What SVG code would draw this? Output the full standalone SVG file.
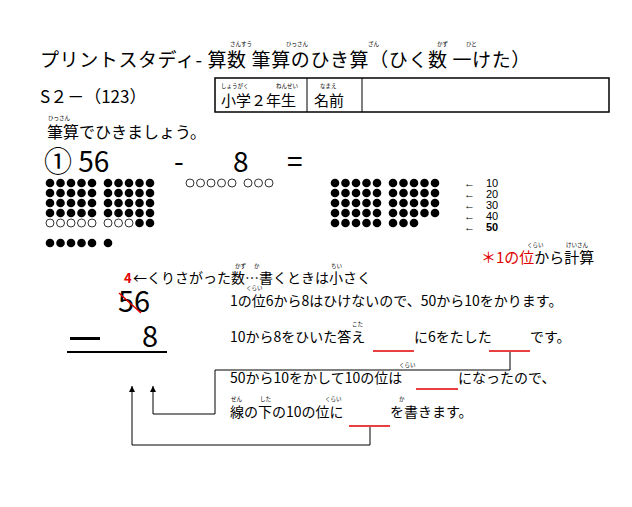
<svg xmlns="http://www.w3.org/2000/svg" width="632" height="507" viewBox="0 0 632 507">
<defs>
<style>
text{font-family:"Noto Sans CJK JP","Liberation Sans",sans-serif;fill:#000}
.f{font-size:5.5px}
.t{font-size:14px}
.r{fill:#e00000}
.d{fill:#000}
.h{fill:none;stroke:#000;stroke-width:0.8}
.u{stroke:#e00000;stroke-width:1.5}
.c{fill:none;stroke:#000;stroke-width:1}
.n{font-family:"Liberation Sans",sans-serif;font-size:11px}
</style>
<marker id="a" viewBox="0 0 6 6" refX="6" refY="3" markerWidth="6" markerHeight="6" orient="auto"><path d="M0,0L6,3L0,6z" fill="#000"/></marker>
<circle id="b" r="4.3" class="d"/>
<circle id="o" r="4" class="h"/>
</defs>
<rect width="632" height="507" fill="#fff"/>
<g id="title">
<text x="40" y="67" font-size="19" letter-spacing="0.6">プリントスタディ- 算数 筆算のひき算（ひく数 一けた）</text>
<text class="f" x="230" y="46">さんすう</text><text class="f" x="286" y="46">ひっさん</text><text class="f" x="368" y="46">ざん</text><text class="f" x="437" y="46">かず</text><text class="f" x="466" y="46">ひと</text>
<text x="40" y="103" font-size="17">S２－（123）</text>
</g>
<g id="namebox">
<rect x="215" y="78" width="394" height="34" fill="none" stroke="#000" stroke-width="1.5"/>
<line x1="307" y1="78" x2="307" y2="112" stroke="#000"/><line x1="362" y1="78" x2="362" y2="112" stroke="#000"/>
<text x="221" y="106" font-size="15">小学２年生</text><text x="314" y="106" font-size="15">名前</text>
<text class="f" x="221" y="88">しょうがく</text><text class="f" x="276" y="88">ねんせい</text><text class="f" x="320" y="88">なまえ</text>
</g>
<g id="problem">
<text x="47" y="138" font-size="16">筆算でひきましょう。</text><text class="f" x="48" y="120">ひっさん</text>
<text x="44" y="172" font-size="28">① 56</text><text x="174" y="172" font-size="28">-</text><text x="233" y="172" font-size="28">8</text><text x="287" y="172" font-size="28">=</text>
</g>
<g id="dots">
<g id="left">
<use href="#b" x="50" y="183"/><use href="#b" x="60.5" y="183"/><use href="#b" x="71" y="183"/><use href="#b" x="81.5" y="183"/><use href="#b" x="92" y="183"/><use href="#b" x="108" y="183"/><use href="#b" x="118.5" y="183"/><use href="#b" x="129" y="183"/><use href="#b" x="139.5" y="183"/><use href="#b" x="150" y="183"/>
<use href="#b" x="50" y="193"/><use href="#b" x="60.5" y="193"/><use href="#b" x="71" y="193"/><use href="#b" x="81.5" y="193"/><use href="#b" x="92" y="193"/><use href="#b" x="108" y="193"/><use href="#b" x="118.5" y="193"/><use href="#b" x="129" y="193"/><use href="#b" x="139.5" y="193"/><use href="#b" x="150" y="193"/>
<use href="#b" x="50" y="203"/><use href="#b" x="60.5" y="203"/><use href="#b" x="71" y="203"/><use href="#b" x="81.5" y="203"/><use href="#b" x="92" y="203"/><use href="#b" x="108" y="203"/><use href="#b" x="118.5" y="203"/><use href="#b" x="129" y="203"/><use href="#b" x="139.5" y="203"/><use href="#b" x="150" y="203"/>
<use href="#b" x="50" y="213"/><use href="#b" x="60.5" y="213"/><use href="#b" x="71" y="213"/><use href="#b" x="81.5" y="213"/><use href="#b" x="92" y="213"/><use href="#b" x="108" y="213"/><use href="#b" x="118.5" y="213"/><use href="#b" x="129" y="213"/><use href="#b" x="139.5" y="213"/><use href="#b" x="150" y="213"/>
<use href="#o" x="50" y="223"/><use href="#o" x="60.5" y="223"/><use href="#o" x="71" y="223"/><use href="#o" x="81.5" y="223"/><use href="#o" x="92" y="223"/><use href="#o" x="108" y="223"/><use href="#o" x="118.5" y="223"/><use href="#o" x="129" y="223"/><use href="#b" x="139.5" y="223"/><use href="#b" x="150" y="223"/>
<use href="#b" x="50" y="243"/><use href="#b" x="60.5" y="243"/><use href="#b" x="71" y="243"/><use href="#b" x="81.5" y="243"/><use href="#b" x="92" y="243"/><use href="#b" x="108" y="243"/>
</g>
<g id="mid">
<use href="#o" x="190" y="183"/><use href="#o" x="200.5" y="183"/><use href="#o" x="211" y="183"/><use href="#o" x="221.5" y="183"/><use href="#o" x="232" y="183"/><use href="#o" x="248" y="183"/><use href="#o" x="258.5" y="183"/><use href="#o" x="269" y="183"/>
</g>
<g id="right">
<use href="#b" x="335" y="183"/><use href="#b" x="345.5" y="183"/><use href="#b" x="356" y="183"/><use href="#b" x="366.5" y="183"/><use href="#b" x="377" y="183"/><use href="#b" x="393" y="183"/><use href="#b" x="403.5" y="183"/><use href="#b" x="414" y="183"/><use href="#b" x="424.5" y="183"/><use href="#b" x="435" y="183"/>
<use href="#b" x="335" y="193"/><use href="#b" x="345.5" y="193"/><use href="#b" x="356" y="193"/><use href="#b" x="366.5" y="193"/><use href="#b" x="377" y="193"/><use href="#b" x="393" y="193"/><use href="#b" x="403.5" y="193"/><use href="#b" x="414" y="193"/><use href="#b" x="424.5" y="193"/><use href="#b" x="435" y="193"/>
<use href="#b" x="335" y="203"/><use href="#b" x="345.5" y="203"/><use href="#b" x="356" y="203"/><use href="#b" x="366.5" y="203"/><use href="#b" x="377" y="203"/><use href="#b" x="393" y="203"/><use href="#b" x="403.5" y="203"/><use href="#b" x="414" y="203"/><use href="#b" x="424.5" y="203"/><use href="#b" x="435" y="203"/>
<use href="#b" x="335" y="213"/><use href="#b" x="345.5" y="213"/><use href="#b" x="356" y="213"/><use href="#b" x="366.5" y="213"/><use href="#b" x="377" y="213"/><use href="#b" x="393" y="213"/><use href="#b" x="403.5" y="213"/><use href="#b" x="414" y="213"/><use href="#b" x="424.5" y="213"/><use href="#b" x="435" y="213"/>
<use href="#b" x="335" y="223"/><use href="#b" x="345.5" y="223"/><use href="#b" x="356" y="223"/><use href="#b" x="366.5" y="223"/><use href="#b" x="377" y="223"/><use href="#b" x="393" y="223"/><use href="#b" x="403.5" y="223"/><use href="#b" x="414" y="223"/>
</g>
<g id="labels">
<text x="464" y="187" class="n">←</text><text x="486" y="187" class="n">10</text>
<text x="464" y="198" class="n">←</text><text x="486" y="198" class="n">20</text>
<text x="464" y="209" class="n">←</text><text x="486" y="209" class="n">30</text>
<text x="464" y="220" class="n">←</text><text x="486" y="220" class="n">40</text>
<text x="464" y="231" class="n">←</text><text x="486" y="231" class="n" font-weight="bold">50</text>
</g>
</g>
<g id="note">
<text x="481" y="263" font-size="15"><tspan class="r">＊1の位</tspan>から計算</text>
<text class="f" x="527" y="247">くらい</text><text class="f" x="566" y="247">けいさん</text>
</g>
<g id="work">
<text x="124" y="283" font-size="13" font-weight="bold" class="r">4</text>
<text x="133" y="283" class="t">←くりさがった数…書くときは小さく</text>
<text class="f" x="235" y="268">かず</text><text class="f" x="254" y="268">か</text><text class="f" x="331" y="268">ちい</text>
<text x="118" y="312" font-size="29">56</text>
<line x1="119" y1="293" x2="141" y2="313" stroke="#e00000" stroke-width="1.5"/>
<rect x="70" y="337" width="30" height="3" fill="#000"/><text x="142" y="347" font-size="29">8</text>
<line x1="67" y1="352" x2="167" y2="352" stroke="#000" stroke-width="2"/>
</g>
<g id="explain">
<text x="230" y="306" class="t">1の位6から8はひけないので、50から10をかります。</text>
<text class="f" x="246" y="290">くらい</text>
<text x="230" y="342" class="t">10から8をひいた答え</text><text x="414" y="342" class="t">に6をたした</text><text x="530" y="342" class="t">です。</text>
<text class="f" x="352" y="326">こた</text>
<text x="230" y="383" class="t">50から10をかして10の位は</text><text x="458" y="383" class="t">になったので、</text>
<text class="f" x="399" y="367">くらい</text>
<text x="230" y="417" class="t">線の下の10の位に</text><text x="390" y="417" class="t">を書きます。</text>
<text class="f" x="231" y="401">せん</text><text class="f" x="260" y="401">した</text><text class="f" x="325" y="401">くらい</text><text class="f" x="399" y="401">か</text>
</g>
<g id="connectors">
<line x1="373" y1="351" x2="414" y2="351" class="u"/>
<line x1="489" y1="351" x2="530" y2="351" class="u"/>
<line x1="416" y1="389" x2="458" y2="389" class="u"/>
<line x1="349" y1="426" x2="390" y2="426" class="u"/>
<path d="M510,352V370H215V414H153V386" class="c" marker-end="url(#a)"/>
<path d="M370,427V445H132V386" class="c" marker-end="url(#a)"/>
</g>
</svg>
